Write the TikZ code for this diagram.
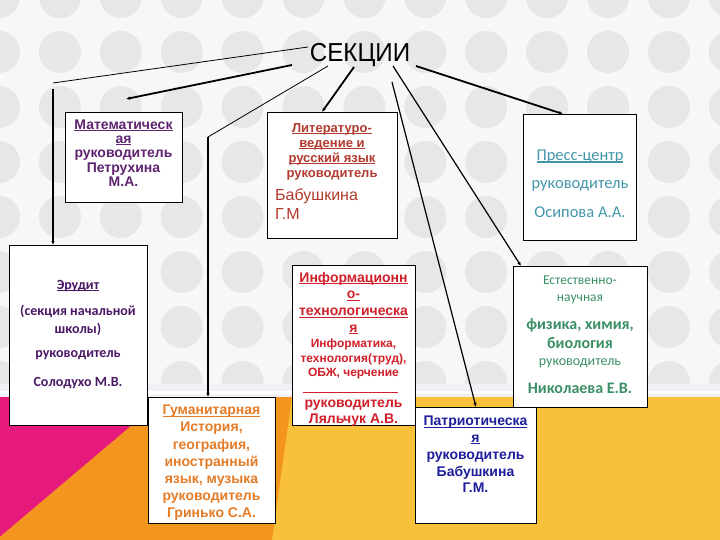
\documentclass[tikz,border=0pt]{standalone}
\usepackage{fontspec}
\setmainfont{Liberation Sans}
\newfontfamily\calfont{Carlito}
\newfontfamily\titlefont[FakeStretch=0.93]{Liberation Sans}
\usetikzlibrary{arrows.meta}
\newcommand\fstrut{\rule{0pt}{1em}}
\newsavebox\myulbox
\newcommand\myul[1]{\sbox\myulbox{#1}\rlap{\rule[-0.14em]{\wd\myulbox}{0.07em}}\usebox\myulbox}
\definecolor{mathc}{HTML}{5E2470}
\definecolor{litc}{HTML}{B23A2E}
\definecolor{pressc}{HTML}{4397AA}
\definecolor{erudc}{HTML}{4A1865}
\definecolor{humc}{HTML}{E47B26}
\definecolor{infoc}{HTML}{D0202A}
\definecolor{natc}{HTML}{3A9064}
\definecolor{patc}{HTML}{1E1E9C}
\definecolor{bgc}{HTML}{F7F7F7}
\definecolor{circc}{HTML}{E7E7E7}
\definecolor{stripc}{HTML}{F3EFF6}
\definecolor{pinkc}{HTML}{E6197C}
\definecolor{orangec}{HTML}{F3951F}
\definecolor{yellowc}{HTML}{F9C13B}
\begin{document}
\begin{tikzpicture}[x=1pt,y=-1pt,
  box/.style={draw=black, fill=white, line width=0.9pt, inner sep=0pt, anchor=north west},
  txt/.style={inner sep=0pt, anchor=north, align=center},
  conthin/.style={line width=0.8pt},
  conmid/.style={line width=1.2pt},
  conthick/.style={line width=1.8pt},
  ar/.style={-{Latex[length=4pt,width=3.5pt]}}]
\useasboundingbox (0,0) rectangle (720,540);
% background
\fill[bgc] (0,0) rectangle (720,540);
\foreach \i in {0,...,12}{
  \foreach \j in {0,...,7}{
    \fill[circc] ({-1+60.9*\i},{-3+55*\j}) circle (21pt);
  }
}
\fill[stripc] (0,384) rectangle (720,397);
\fill[white] (0,391) rectangle (720,394);
\fill[yellowc] (0,397) rectangle (720,540);
\fill[orangec] (165,397) -- (292,397) -- (272,540) -- (-4,540) -- cycle;
\fill[pinkc] (0,397) -- (165,397) -- (-4,540) -- cycle;

% title
\node[inner sep=0pt, anchor=base] (title) at (360,62) {\titlefont\fontsize{26}{26}\selectfont СЕКЦИИ};

% boxes
\node[box, minimum width=117pt, minimum height=90pt] (math) at (65,112) {};
\node[box, minimum width=130pt, minimum height=126pt] (lit) at (267,112) {};
\node[box, minimum width=113pt, minimum height=126pt] (press) at (523,114) {};
\node[box, minimum width=138pt, minimum height=180pt] (erud) at (9,245) {};
\node[box, minimum width=127pt, minimum height=126pt] (hum) at (148,397) {};
\node[box, minimum width=123pt, minimum height=160pt] (info) at (292,265) {};
\node[box, minimum width=134pt, minimum height=141pt] (nat) at (513,266) {};
\node[box, minimum width=121pt, minimum height=116pt] (pat) at (415,407) {};

% connectors
\coordinate (s1) at (308,47);
\coordinate (k1) at (53,83);
\coordinate (k1b) at (53,89);
\draw[conthin] (s1) -- (k1);
\draw[conthick, ar] (k1b) -- (k1b |- erud.north);

\coordinate (s2) at (292,65);
\coordinate (e2) at (126,99);
\draw[conthick, ar] (s2) -- (e2);

\coordinate (s3) at (328,66);
\coordinate (k3) at (208,137);
\draw[conthin] (s3) -- (k3);
\draw[conthick, ar] (k3) -- (k3 |- hum.north);

\coordinate (s4) at (354,67);
\coordinate (e4) at (322,112);
\draw[conthick, ar] (s4) -- (e4);

\coordinate (s5) at (392,82);
\coordinate (e5) at (476,407);
\draw[conmid, ar] (s5) -- (e5);

\coordinate (s6) at (393,66);
\coordinate (e6) at (521,266);
\draw[conmid, ar] (s6) -- (e6);

\coordinate (s7) at (416,66);
\coordinate (e7) at (563,114);
\draw[conthick, ar] (s7) -- (e7);

% texts
\node[txt, text=mathc, font=\bfseries\fontsize{14}{14.3}\selectfont] (mathT) at (123.5,115)
  {\fstrut\myul{Математическ}\\\myul{ая}\\руководитель\\Петрухина\\М.А.};

\node[txt, text=litc, font=\bfseries\fontsize{13}{15}\selectfont] (litT) at (332,119)
  {\fstrut\myul{Литературо-}\\\myul{ведение и}\\\myul{русский язык}\\руководитель};
\node[inner sep=0pt, anchor=north west, align=left, text=litc, font=\fontsize{16}{19}\selectfont] (litN) at (275,184)
  {\fstrut Бабушкина\\Г.М};

\node[txt, text=pressc, font=\calfont\fontsize{16.5}{28.5}\selectfont] (pressT) at (580,143.5)
  {\fstrut\myul{Пресс-центр}\\руководитель\\Осипова А.А.};

\node[txt, text=erudc, font=\calfont\bfseries\fontsize{14}{18}\selectfont] (erudT) at (78,275)
  {\fstrut\myul{Эрудит}\\[8pt](секция начальной\\школы)\\[6pt]руководитель\\[11pt]Солодухо М.В.};

\node[txt, text=humc, font=\bfseries\fontsize{14}{17.2}\selectfont] (humT) at (211.5,400.5)
  {\fstrut\myul{Гуманитарная}\\История,\\география,\\иностранный\\язык, музыка\\руководитель\\Гринько С.А.};

\node[txt, text=infoc, font=\bfseries\fontsize{14}{16.7}\selectfont] (infoT) at (353.5,268)
  {\fstrut\myul{Информационн}\\\myul{о-}\\\myul{технологическа}\\\myul{я}\\[-1.8pt]
   {\fontsize{12}{14.5}\selectfont Информатика,}\\[-1.7pt]
   {\fontsize{12}{14.5}\selectfont технология(труд),}\\[-2.7pt]
   {\fontsize{12}{14.5}\selectfont ОБЖ, черчение}\\[14.3pt]
   руководитель\\[-0.7pt]Ляльчук А.В.};
\draw[infoc, line width=0.8pt] (303,392) -- (398,392);

\node[txt, text=natc, font=\calfont\fontsize{16}{17}\selectfont] (natT) at (580,270.5)
  {{\fontsize{13.5}{17}\selectfont\fstrut Естественно-}\\
   {\fontsize{13.5}{17}\selectfont научная}\\[11pt]
   {\bfseries физика, химия,}\\[2pt]
   {\bfseries биология}\\
   {\fontsize{14}{17}\selectfont руководитель}\\[11pt]
   {\bfseries Николаева Е.В.}};

\node[txt, text=patc, font=\bfseries\fontsize{14}{16.8}\selectfont] (patT) at (475.5,411.5)
  {\fstrut\myul{Патриотическа}\\\myul{я}\\руководитель\\Бабушкина\\Г.М.};
\end{tikzpicture}
\end{document}
